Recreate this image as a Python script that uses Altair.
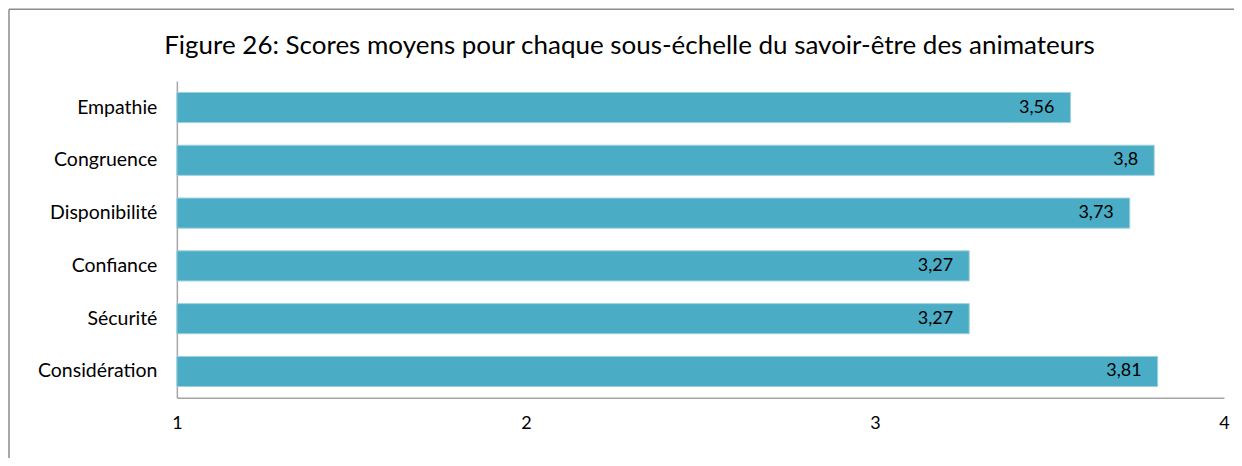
import altair as alt
import pandas as pd

categories = ["Empathie", "Congruence", "Disponibilité", "Confiance", "Sécurité", "Considération"]
values = [3.56, 3.8, 3.73, 3.27, 3.27, 3.81]
x_ticks = [1, 2, 3, 4]
title_text = "Figure 26: Scores moyens pour chaque sous-échelle du savoir-être des animateurs"

df = pd.DataFrame({
    "cat": categories,
    "val": values,
    "lab": [str(v).replace(".", ",") for v in values],
})

FONT = "Lato"

xscale = alt.Scale(domain=[1, 4], nice=False, zero=False)
yscale = alt.Scale(domain=categories, paddingInner=0.43, paddingOuter=0.215)

base = alt.Chart(df)

bars = base.mark_bar(color="#4BACC6", stroke="#9ED0DE", strokeWidth=1).encode(
    x=alt.X("val:Q", scale=xscale,
            axis=alt.Axis(values=x_ticks, format="d", title=None, grid=False, ticks=False,
                          labelPadding=17, labelFontSize=18, labelFont=FONT,
                          labelColor="#000000", domainColor="#A6A6A6", domainWidth=1.5,
                          labelFlush=False)),
    x2=alt.datum(1),
    y=alt.Y("cat:N", scale=yscale, sort=categories,
            axis=alt.Axis(title=None, ticks=False, labelPadding=20, labelFontSize=19.5,
                          labelFont=FONT, labelColor="#000000", domainColor="#A6A6A6",
                          domainWidth=1.5)),
)

texts = base.mark_text(align="right", baseline="middle", dx=-16, fontSize=18,
                       font=FONT, color="#000000").encode(
    x=alt.X("val:Q", scale=xscale),
    y=alt.Y("cat:N", scale=yscale, sort=categories),
    text="lab:N",
)

one = pd.DataFrame({"a": [0]})
border_top = alt.Chart(one).mark_rule(color="#8C8C8C", strokeWidth=1.5).encode(
    x=alt.value(-168), x2=alt.value(1058), y=alt.value(-72)
)
border_left = alt.Chart(one).mark_rule(color="#8C8C8C", strokeWidth=1.5).encode(
    x=alt.value(-168), y=alt.value(-72), y2=alt.value(385)
)

chart = alt.layer(border_top, border_left, bars, texts).properties(
    width=1048,
    height=317,
    autosize=alt.AutoSizeParams(type="none"),
    padding={"left": 169, "top": 73, "right": 10, "bottom": 60},
    title=alt.TitleParams(title_text, font=FONT, fontSize=26, fontWeight="normal",
                          color="#000000", anchor="middle", dx=-71, offset=0, dy=72,
                          baseline="alphabetic", frame="group"),
).configure_view(stroke=None)

chart.save("out.html", embed_options={"renderer": "svg", "actions": False})
